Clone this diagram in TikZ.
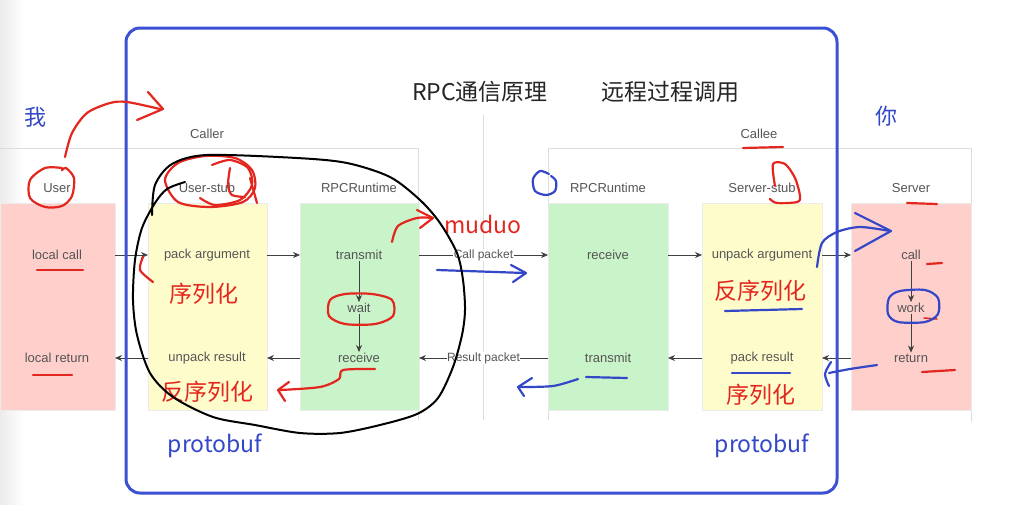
\documentclass[tikz,border=0pt]{standalone}
\usepackage{fontspec}
\setmainfont{Liberation Sans}
\newfontfamily\cjk{Noto Sans CJK SC}
\usetikzlibrary{arrows.meta,calc}
\definecolor{pinkbox}{HTML}{FFCFCC}
\definecolor{yelbox}{HTML}{FFFCCC}
\definecolor{grnbox}{HTML}{C9F3C9}
\definecolor{frameg}{HTML}{DDDDDD}
\definecolor{txtg}{HTML}{555555}
\definecolor{penred}{HTML}{E3261E}
\definecolor{penblue}{HTML}{3347C8}
\definecolor{outblue}{HTML}{3B50D2}
\tikzset{
  box/.style={draw=black!8, inner sep=0pt, outer sep=0pt, minimum height=207pt},
  lbl/.style={font=\fontsize{13}{15}\selectfont, text=txtg, inner sep=1pt},
  conn/.style={-{Stealth[length=7pt,width=6pt]}, draw=black!75, line width=0.7pt},
  pkt/.style={font=\fontsize{12}{14}\selectfont, text=txtg, fill=white, inner sep=0.5pt},
  redpen/.style={draw=penred, line width=2.2pt, line cap=round, line join=round},
  bluepen/.style={draw=penblue, line width=2.2pt, line cap=round, line join=round},
  blackpen/.style={draw=black, line width=2pt, line cap=round, line join=round},
  redtxt/.style={font=\cjk\fontsize{23}{25}\selectfont, text=penred, inner sep=0pt},
  bluetxt/.style={font=\cjk\fontsize{23}{25}\selectfont, text=penblue, inner sep=0pt},
}
\begin{document}
\begin{tikzpicture}[x=1pt,y=-1pt]
\useasboundingbox (0,0) rectangle (1016,504);
\fill[white] (0,0) rectangle (1016,504);
\shade[left color=black!8, right color=white] (0,0) rectangle (24,504);

% frames
\draw[frameg, line width=1pt] (0,148) -- (418,148) -- (418,420);
\draw[frameg, line width=1pt] (548,420) -- (548,148) -- (971,148) -- (971,422);
\draw[frameg, line width=1pt] (483,115) -- (483,420);

% titles
\node[font=\cjk\fontsize{23}{25}\selectfont, text=black!85, inner sep=0pt] (t1) at (480,92) {RPC通信原理};
\node[font=\cjk\fontsize{23}{25}\selectfont, text=black!85, inner sep=0pt] (t2) at (670,92) {远程过程调用};
\node[lbl] (caller) at (207,134) {Caller};
\node[lbl] (callee) at (759,134) {Callee};

% boxes
\node[box, fill=pinkbox, minimum width=115pt] (userbox) at (57.5,306.5) {};
\node[box, fill=yelbox, minimum width=119pt] (ustub) at (207.5,306.5) {};
\node[box, fill=grnbox, minimum width=119pt] (lrt) at (359.5,306.5) {};
\node[box, fill=grnbox, minimum width=120pt] (rrt) at (608,306.5) {};
\node[box, fill=yelbox, minimum width=120pt] (sstub) at (762,306.5) {};
\node[box, fill=pinkbox, minimum width=120pt] (server) at (911,306.5) {};

% column headings
\node[lbl] (uH) at (57,188) {User};
\node[lbl] (usH) at (207,188) {User-stub};
\node[lbl] (lrH) at (359,188) {RPCRuntime};
\node[lbl] (rrH) at (608,188) {RPCRuntime};
\node[lbl] (ssH) at (762,188) {Server-stub};
\node[lbl] (sH) at (911,188) {Server};

% row texts
\node[lbl] (lcall) at (57,255) {local call};
\node[lbl] (pack) at (207,255) {pack argument};
\node[lbl] (ltx) at (359,255) {transmit};
\node[lbl] (rrecv) at (608,255) {receive};
\node[lbl] (unpack) at (762,255) {unpack argument};
\node[lbl] (call) at (911,255) {call};
\node[lbl] (wait) at (359,308) {wait};
\node[lbl] (work) at (911,308) {work};
\node[lbl] (lret) at (57,358) {local return};
\node[lbl] (unres) at (207,358) {unpack result};
\node[lbl] (lrecv) at (359,358) {receive};
\node[lbl] (rtx) at (608,358) {transmit};
\node[lbl] (packres) at (762,358) {pack result};
\node[lbl] (ret) at (911,358) {return};

% connectors
\draw[conn] (userbox.east |- lcall) -- (ustub.west |- lcall);
\draw[conn] (ustub.east |- pack) -- (lrt.west |- pack);
\draw[conn] (lrt.east |- ltx) -- node[pkt] (cpk) {Call packet} (rrt.west |- ltx);
\draw[conn] (rrt.east |- rrecv) -- (sstub.west |- rrecv);
\draw[conn] (sstub.east |- unpack) -- (server.west |- unpack);
\draw[conn] (ltx) -- (wait);
\draw[conn] (wait) -- (lrecv);
\draw[conn] (call) -- (work);
\draw[conn] (work) -- (ret);
\draw[conn] (server.west |- ret) -- (sstub.east |- ret);
\draw[conn] (sstub.west |- packres) -- (rrt.east |- packres);
\draw[conn] (rrt.west |- rtx) -- node[pkt] (rpk) {Result packet} (lrt.east |- rtx);
\draw[conn] (lrt.west |- lrecv) -- (ustub.east |- lrecv);
\draw[conn] (ustub.west |- unres) -- (userbox.east |- unres);

% outer blue frame
\draw[outblue, line width=3pt, rounded corners=14pt] (126,28) rectangle (837,493);

% annotation texts
\node[font=\cjk\fontsize{22}{24}\selectfont, text=penblue, inner sep=0pt] (wo) at (35,117) {我};
\node[font=\cjk\fontsize{22}{24}\selectfont, text=penblue, inner sep=0pt] (ni) at (886,116) {你};
\node[redtxt, anchor=base] (muduo) at (483,233) {muduo};
\node[redtxt] (ser1) at (204,294) {序列化};
\node[redtxt] (deser1) at (207,392) {反序列化};
\node[redtxt] (deser2) at (760,291) {反序列化};
\node[redtxt] (ser2) at (761,395) {序列化};
\node[bluetxt] (pb1) at (215,446) {protobuf};
\node[bluetxt] (pb2) at (762,446) {protobuf};

% red strokes
\draw[redpen] plot[smooth] coordinates {(65,157) (72,133) (87,113) (110,103) (127,102) (160,109)};
\draw[redpen] (148,92) -- (163,109) -- (137,120);
\draw[redpen] plot[smooth] coordinates {(62,168) (45,168) (30,180) (30,198) (45,207) (62,206) (72,196) (74,178) (66,168) (62,170)};
\draw[redpen] (37,270) -- (83,270);
\draw[redpen] (33,375) -- (72,375);
\draw[redpen] plot[smooth cycle] coordinates {(165,180) (178,163) (205,156) (235,158) (252,170) (255,188) (243,202) (210,207) (178,202)};
\draw[redpen] plot[smooth] coordinates {(212,165) (230,160) (248,168) (252,185) (240,200) (215,205) (200,198)};
\draw[redpen] plot[smooth] coordinates {(230,168) (228,185) (232,195) (245,197)};
\draw[redpen] (250,178) -- (257,203);
\draw[redpen] plot[smooth] coordinates {(143,257) (140,270) (153,282)};
\draw[redpen] plot[smooth cycle] coordinates {(330,300) (345,294) (372,294) (392,300) (393,316) (375,324) (345,324) (329,316)};
\draw[redpen] plot[smooth] coordinates {(375,369) (343,370) (339,379) (320,387) (280,390)};
\draw[redpen] (289,382) -- (278,390) -- (285,401);
\draw[redpen] plot[smooth] coordinates {(392,242) (398,226) (417,218) (433,218)};
\draw[redpen] (417,210) -- (433,218) -- (420,228);
\draw[redpen] (743,148) -- (783,147);
\draw[redpen] plot[smooth] coordinates {(775,186) (773,164) (785,164) (795,178) (800,196) (797,202) (777,203) (770,199)};
\draw[redpen] (907,203) -- (937,204);
\draw[redpen] (927,264) -- (942,263);
\draw[redpen] (922,372) -- (955,370);
\draw[redpen, line width=1.5pt] (924,318) -- (937,319);

% blue strokes
\draw[bluepen] plot[smooth] coordinates {(549,174) (540,171) (533,179) (535,191) (546,195) (555,191) (556,181) (551,176)};
\draw[bluepen] (437,270) -- (525,273);
\draw[bluepen] (511,265) -- (526,273) -- (513,282);
\draw[bluepen] plot[smooth] coordinates {(578,379) (553,386) (520,387)};
\draw[bluepen] (532,378) -- (518,387) -- (524,396);
\draw[bluepen] (586,377) -- (627,378);
\draw[bluepen] (725,311) -- (802,309);
\draw[bluepen] (732,373) -- (790,373);
\draw[bluepen] plot[smooth] coordinates {(817,267) (822,243) (837,232) (860,227) (890,231)};
\draw[bluepen] (855,213) -- (891,231) -- (855,251);
\draw[bluepen] plot[smooth cycle] coordinates {(889,298) (900,291) (925,290) (938,298) (938,314) (925,322) (898,322) (888,314)};
\draw[bluepen] plot[smooth] coordinates {(877,365) (850,369) (829,373)};
\draw[bluepen] plot[smooth] coordinates {(831,362) (825,374) (829,386)};

% black loop
\draw[blackpen] plot[smooth] coordinates {(152,215) (155,185) (172,164) (207,155) (297,158) (347,163) (390,177) (420,200) (440,223) (457,253) (463,280) (465,310) (462,335) (453,367) (438,398) (417,414) (380,425) (340,433) (300,433) (255,425) (213,417) (173,397) (150,373) (137,335) (133,300) (135,260) (142,228) (155,203) (167,189) (185,182)};
\end{tikzpicture}
\end{document}
